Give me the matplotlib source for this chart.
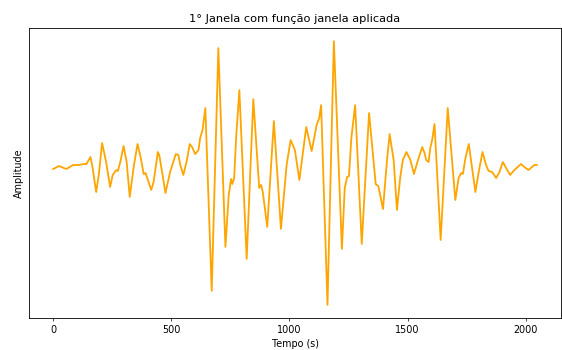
import numpy as np
import matplotlib
matplotlib.use("Agg")
import matplotlib.pyplot as plt

# Windowed signal, first window (sample index vs amplitude)
tempo = [0, 24, 56, 84, 108, 129, 141, 158, 167, 182, 193, 207, 224, 241, 252,
         267, 274, 284, 298, 311, 324, 342, 357, 370, 383, 391, 415, 425, 443,
         449, 463, 475, 495, 519, 530, 538, 551, 566, 578, 588, 601, 615, 622,
         632, 644, 671, 699, 729, 743, 753, 758, 766, 775, 788, 819, 847, 872,
         880, 887, 906, 934, 964, 988, 1005, 1023, 1042, 1071, 1094, 1103,
         1115, 1126, 1134, 1161, 1188, 1222, 1234, 1244, 1252, 1262, 1278,
         1306, 1337, 1365, 1376, 1396, 1413, 1424, 1441, 1455, 1469, 1480,
         1495, 1512, 1527, 1544, 1562, 1572, 1579, 1589, 1596, 1604, 1614,
         1640, 1670, 1702, 1716, 1727, 1734, 1745, 1759, 1787, 1801, 1817,
         1832, 1843, 1858, 1875, 1889, 1903, 1917, 1934, 1952, 1980, 1994,
         2012, 2036, 2047]

amplitude = [-0.01, 0.02, -0.01, 0.03, 0.03, 0.04, 0.04, 0.11, 0.00, -0.24,
             -0.07, 0.25, 0.06, -0.19, -0.07, -0.02, -0.03, 0.06, 0.22, 0.06,
             -0.29, 0.03, 0.24, 0.11, -0.06, -0.05, -0.22, -0.14, 0.16, 0.13,
             -0.07, -0.25, -0.04, 0.14, 0.13, 0.03, -0.07, 0.08, 0.24, 0.21,
             0.14, 0.18, 0.30, 0.38, 0.60, -1.23, 1.20, -0.79, -0.27, -0.11,
             -0.16, -0.10, 0.33, 0.78, -0.91, 0.69, -0.20, -0.17, -0.24, -0.59,
             0.47, -0.61, 0.03, 0.28, 0.18, -0.12, 0.41, 0.17, 0.28, 0.43, 0.50,
             0.63, -1.37, 1.27, -0.81, -0.20, -0.09, -0.08, 0.30, 0.63, -0.76,
             0.55, -0.16, -0.18, -0.41, 0.08, 0.34, 0.08, -0.42, -0.09, 0.08,
             0.16, 0.08, -0.06, 0.08, 0.21, 0.15, 0.08, 0.06, 0.20, 0.28, 0.44,
             -0.72, 0.60, -0.32, -0.10, -0.05, -0.06, 0.10, 0.24, -0.24, -0.04,
             0.16, 0.03, -0.03, -0.04, -0.10, -0.04, 0.06, 0.00, -0.07, -0.02,
             0.04, 0.01, -0.02, 0.03, 0.03]

fig = plt.figure(figsize=(5.62, 3.5), dpi=100)
ax = fig.add_axes([29 / 562, 1 - 318 / 350, 532 / 562, 290 / 350])

ax.plot(tempo, amplitude, color="orange", linewidth=1.3)

ax.set_title("1° Janela com função janela aplicada", fontsize=8.2, pad=4)
ax.set_xlabel("Tempo (s)", fontsize=6.9, labelpad=3)
ax.set_ylabel("Amplitude", fontsize=6.9, labelpad=4)
ax.set_yticks([])
ax.set_xticks([0, 500, 1000, 1500, 2000])
ax.tick_params(axis="x", labelsize=6.9, length=2.3, width=0.5, pad=2.5)
for s in ax.spines.values():
    s.set_linewidth(0.6)

fig.savefig("out.png", dpi=100)
